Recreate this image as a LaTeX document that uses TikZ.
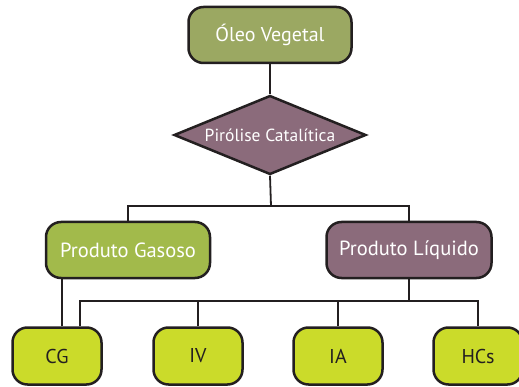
\documentclass[tikz,border=0pt]{standalone}
\usepackage{fontspec}
\setmainfont{PT Sans}
\usepackage{xcolor}
\definecolor{oilGreen}{HTML}{9BA862}
\definecolor{gasGreen}{HTML}{A2BA4B}
\definecolor{prodMauve}{HTML}{8B6B7B}
\definecolor{leafLime}{HTML}{CBDB2A}
\definecolor{inkDark}{HTML}{231F20}
\usetikzlibrary{shapes.geometric}

\begin{document}
\begin{tikzpicture}[x=1pt, y=-1pt]
  \useasboundingbox (0,0) rectangle (519,387);
  \node[rectangle, rounded corners=15pt, draw=inkDark, line width=2.5pt, minimum width=163pt, minimum height=56pt, fill=oilGreen, text=white, font=\fontsize{20}{24}\selectfont] (oleo) at (270,35) {Óleo Vegetal};
  \node[diamond, aspect=2.4, inner sep=0pt, draw=inkDark, line width=2.5pt, minimum width=192pt, minimum height=79pt, fill=prodMauve, text=white, font=\fontsize{17.5}{21}\selectfont] (piro) at (270,135) {Pirólise Catalítica};
  \node[rectangle, rounded corners=15pt, draw=inkDark, line width=2.5pt, minimum width=164pt, minimum height=56pt, fill=gasGreen, text=white, font=\fontsize{20.5}{24}\selectfont] (gas) at (128,250) {Produto Gasoso};
  \node[rectangle, rounded corners=15pt, draw=inkDark, line width=2.5pt, minimum width=165pt, minimum height=56pt, fill=prodMauve, text=white, font=\fontsize{20.5}{24}\selectfont] (liq) at (409,250) {Produto Líquido};
  \node[rectangle, rounded corners=15pt, draw=inkDark, line width=2.5pt, minimum width=89pt, minimum height=57pt, fill=leafLime, text=inkDark, font=\fontsize{20}{24}\selectfont] (cg) at (57,356) {CG};
  \node[rectangle, rounded corners=15pt, draw=inkDark, line width=2.5pt, minimum width=89pt, minimum height=57pt, fill=leafLime, text=inkDark, font=\fontsize{20}{24}\selectfont] (iv) at (198,356) {IV};
  \node[rectangle, rounded corners=15pt, draw=inkDark, line width=2.5pt, minimum width=89pt, minimum height=57pt, fill=leafLime, text=inkDark, font=\fontsize{20}{24}\selectfont] (ia) at (338,356) {IA};
  \node[rectangle, rounded corners=15pt, draw=inkDark, line width=2.5pt, minimum width=89pt, minimum height=57pt, fill=leafLime, text=inkDark, font=\fontsize{20}{24}\selectfont] (hcs) at (478,356) {HCs};
  \coordinate (split1) at (271,206);
  \coordinate (split2) at (409,301);
  \draw[inkDark, line width=1.8pt] (oleo) -- (piro);
  \draw[inkDark, line width=1.8pt] (piro.south) -- (split1);
  \draw[inkDark, line width=1.8pt] (split1) -| (gas.north);
  \draw[inkDark, line width=1.8pt] (split1) -| (liq.north);
  \draw[inkDark, line width=1.8pt] ([xshift=5pt]cg.north) -- ([xshift=5pt]cg.north |- gas.south);
  \draw[inkDark, line width=1.8pt] (liq.south) -- (split2);
  \draw[inkDark, line width=1.8pt] ([xshift=23pt]cg.north) |- (split2) -| (hcs.north);
  \draw[inkDark, line width=1.8pt] (iv.north) -- (iv.north |- split2);
  \draw[inkDark, line width=1.8pt] (ia.north) -- (ia.north |- split2);
\end{tikzpicture}
\end{document}
